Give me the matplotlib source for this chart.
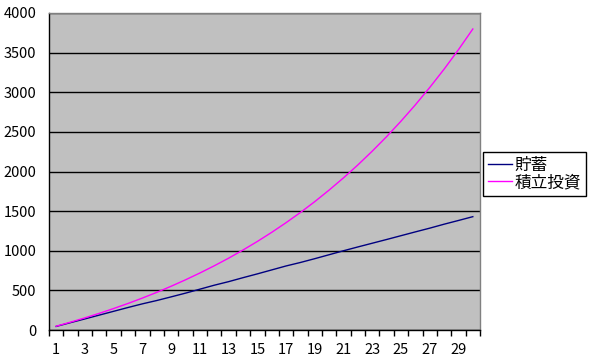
import matplotlib
matplotlib.use("Agg")
import matplotlib.pyplot as plt

plt.rcParams['font.family'] = ['Noto Sans CJK JP', 'DejaVu Sans']

years = list(range(1, 31))
# 貯蓄 (savings)
savings = [45, 93, 140, 188, 236, 284, 330, 372, 418, 465, 515, 565, 610,
           660, 708, 758, 808, 852, 900, 950, 1000, 1048, 1095, 1142, 1190,
           1238, 1285, 1335, 1382, 1430]
# 積立投資 (installment investment)
invest = [48, 99, 153, 210, 271, 335, 403, 475, 552, 633, 719, 810, 906,
          1009, 1117, 1232, 1354, 1483, 1620, 1766, 1920, 2083, 2257, 2440,
          2635, 2841, 3060, 3291, 3537, 3798]
yticks = [0, 500, 1000, 1500, 2000, 2500, 3000, 3500, 4000]
xlabels = [1, 3, 5, 7, 9, 11, 13, 15, 17, 19, 21, 23, 25, 27, 29]

fig = plt.figure(figsize=(5.94, 3.61), dpi=100)
ax = fig.add_axes([49/594, 1-330/361, 431/594, 317/361])
ax.set_facecolor('#C0C0C0')

ax.plot(years, savings, color='#000080', lw=1, label='貯蓄')
ax.plot(years, invest, color='#FF00FF', lw=1, label='積立投資')

ax.set_xlim(0.5, 30.5)
ax.set_ylim(0, 4000)
ax.set_yticks(yticks)
ax.yaxis.grid(True, color='black', lw=1)
ax.set_axisbelow(True)

ax.set_xticks(xlabels)
ax.set_xticks([x + 0.5 for x in range(0, 31)], minor=True)
ax.tick_params(axis='x', which='major', length=0, pad=9, labelsize=10.5)
ax.tick_params(axis='x', which='minor', length=4, width=1, color='black', direction='out')
ax.tick_params(axis='y', length=0, pad=9, labelsize=10.5)

for s in ['top', 'right']:
    ax.spines[s].set_color('#808080')
for s in ['left', 'bottom']:
    ax.spines[s].set_color('black')
for s in ax.spines.values():
    s.set_linewidth(1)

leg = ax.legend(loc='upper left', bbox_to_anchor=(483/594, 1-152/361),
                bbox_transform=fig.transFigure, borderaxespad=0,
                fancybox=False, shadow=False, framealpha=1,
                edgecolor='black', fontsize=12, handlelength=1.45,
                handletextpad=0.12, labelspacing=0.0, borderpad=0.3)
leg.get_frame().set_linewidth(1)

fig.savefig('out.png', dpi=100)
